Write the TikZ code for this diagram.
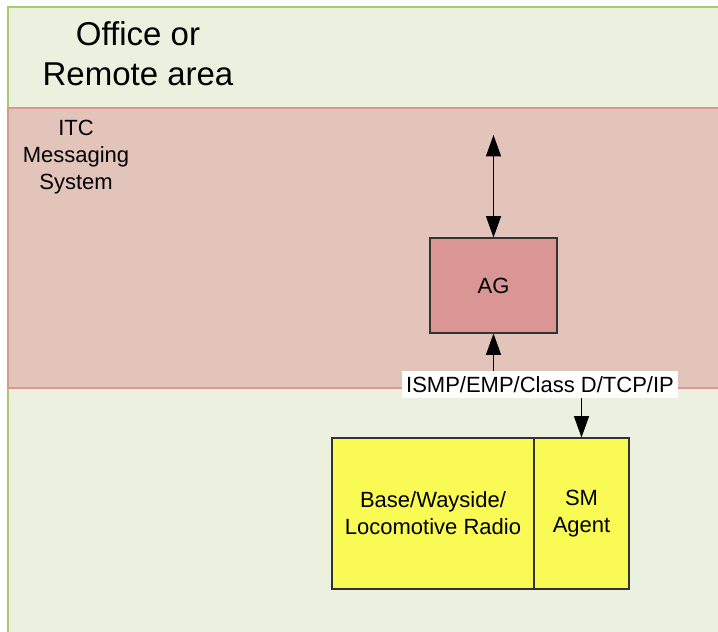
\documentclass[tikz,border=0pt]{standalone}
\usepackage{fontspec}
\setmainfont{Liberation Sans}
\usetikzlibrary{arrows.meta}
\definecolor{areagreen}{RGB}{235,241,222}
\definecolor{areaborde}{RGB}{170,200,110}
\definecolor{itcrosa}{RGB}{226,196,186}
\definecolor{itcborde}{RGB}{222,150,145}
\definecolor{agrojo}{RGB}{217,150,148}
\definecolor{radioamarillo}{RGB}{250,250,85}
\begin{document}
\begin{tikzpicture}[x=0.75pt,y=-0.75pt]
% estilos de cajas y flechas
\tikzstyle{caja} = [draw=black!80,line width=0.8pt,inner sep=0pt,align=center,
  font=\fontsize{16.5}{20.25}\selectfont]
\tikzstyle{flecha} = [line width=0.8pt,-{Triangle[width=11.25pt,length=16pt]}]
\tikzstyle{flechas} = [line width=0.8pt,{Triangle[width=11.25pt,length=16pt]}-{Triangle[width=11.25pt,length=16pt]}]
\useasboundingbox (0,0) rectangle (718,632);
% --------------------------------------
% dibujar areas
\fill [areagreen] (8,7) rectangle (722,636);
\draw [areaborde,line width=1pt] (8,636) -- (8,7) -- (722,7);
\fill [itcrosa] (8,108) rectangle (722,388);
\draw [itcborde,line width=0.8pt] (722,108) -- (8,108) -- (8,388) -- (722,388);
% rotulos de areas
\node [align=center,font=\fontsize{24.75}{30}\selectfont] (office) at (138,54)
  {Office or\\Remote area};
\node [align=center,font=\fontsize{16.5}{20.25}\selectfont] (itc) at (76,157)
  {ITC\\Messaging\\System};
% dibujar cajas
\node [caja,fill=agrojo,minimum width=95.25pt,minimum height=71.25pt] (ag)
  at (493.5,285.5) {AG};
\node [caja,fill=radioamarillo,minimum width=151.5pt,minimum height=113.25pt] (radio)
  at (433,513.5) {Base/Wayside/\\Locomotive Radio};
\node [caja,fill=radioamarillo,minimum width=71.25pt,minimum height=113.25pt] (smagent)
  at (581.5,513.5) {SM\\Agent};
\node [fill=white,inner xsep=3pt,inner ysep=0pt,minimum height=20.25pt,
  font=\fontsize{16.5}{20.25}\selectfont] (proto) at (540,384.5)
  {ISMP/EMP/Class D/TCP/IP};
% dibujar flechas
\coordinate (itctop) at (493.5,135);
\draw [flechas] (itctop) -- (ag.north);
\draw [flecha] (proto.north -| ag) -- (ag.south);
\draw [flecha] (proto.south -| smagent) -- (smagent.north);
% --------------------------------------
\end{tikzpicture}
\end{document}
